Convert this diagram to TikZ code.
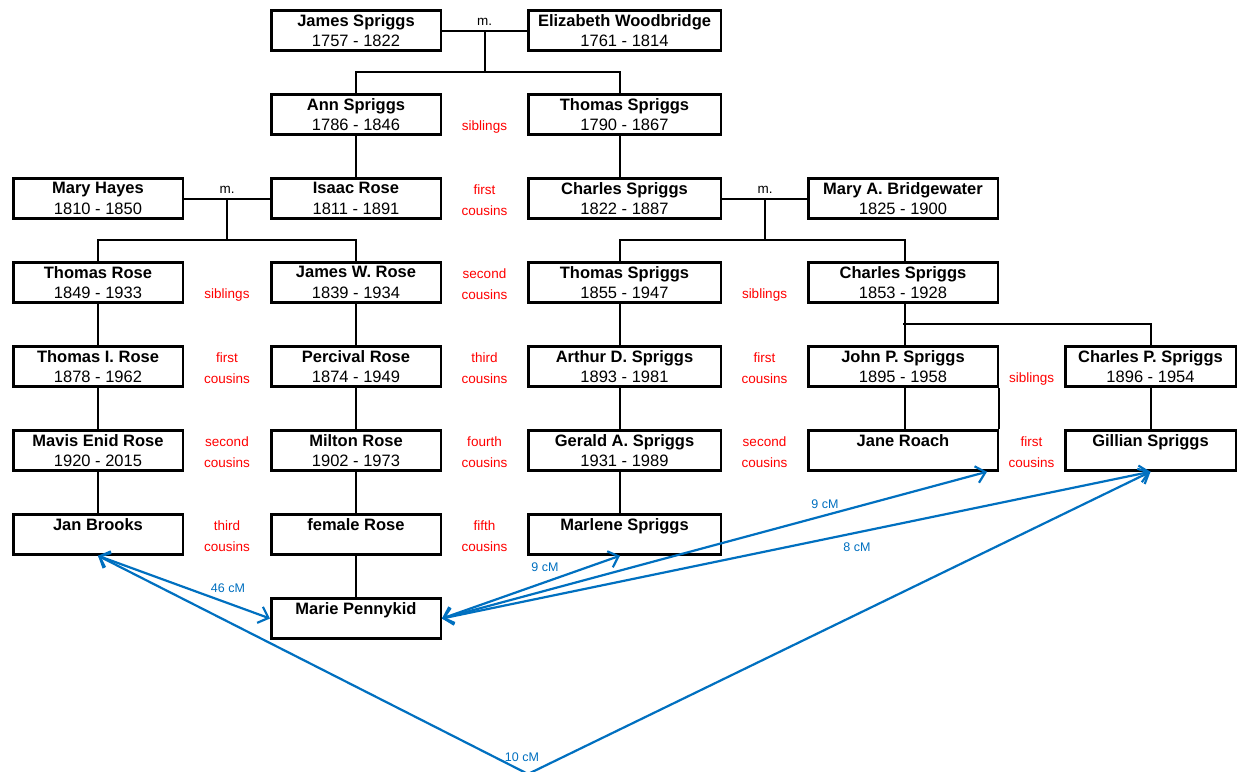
\documentclass[tikz,border=0pt]{standalone}
\usepackage{fontspec}
\setmainfont{Liberation Sans}
\usetikzlibrary{arrows.meta}
\definecolor{dnablue}{RGB}{0,112,192}
\definecolor{relred}{RGB}{255,0,0}
\newcommand{\pname}[2]{\textbf{#1}\\#2}
\begin{document}
\begin{tikzpicture}[x=1pt,y=-1pt,
  person/.style={draw, line width=2.5pt, rectangle, inner sep=0pt, minimum height=40pt,
    align=center, font=\fontsize{16.5}{20.5}\selectfont},
  colA/.style={person, minimum width=169.5pt},
  colC/.style={person, minimum width=192.5pt},
  colD/.style={person, minimum width=189.5pt},
  colE/.style={person, minimum width=170.5pt},
  link/.style={line width=2pt},
  rel/.style={text=relred, font=\fontsize{13.5}{16}\selectfont, inner sep=0pt, anchor=base},
  mtext/.style={font=\fontsize{13.5}{16}\selectfont, inner sep=0pt},
  barb/.tip={Straight Barb[length=9pt,width=17pt]},
  dna/.style={draw=dnablue, line width=2.2pt, barb-barb},
  cmlabel/.style={text=dnablue, font=\fontsize{12.5}{15}\selectfont, inner sep=0pt}
]
\useasboundingbox (0,0) rectangle (1238,771);
\fill[white] (0,0) rectangle (1238,771);

% ---- people ----
\node[colA] (js)  at (356,30.5)   {\pname{James Spriggs}{1757 - 1822}};
\node[colC] (ew)  at (624.5,30.5) {\pname{Elizabeth Woodbridge}{1761 - 1814}};
\node[colA] (as)  at (356,114.5)  {\pname{Ann Spriggs}{1786 - 1846}};
\node[colC] (ts1) at (624.5,114.5){\pname{Thomas Spriggs}{1790 - 1867}};
\node[colA] (mh)  at (98,198.5)   {\pname{Mary Hayes}{1810 - 1850}};
\node[colA] (ir)  at (356,198.5)  {\pname{Isaac Rose}{1811 - 1891}};
\node[colC] (cs1) at (624.5,198.5){\pname{Charles Spriggs}{1822 - 1887}};
\node[colD] (mb)  at (903,198.5)  {\pname{Mary A. Bridgewater}{1825 - 1900}};
\node[colA] (tr)  at (98,282.5)   {\pname{Thomas Rose}{1849 - 1933}};
\node[colA] (jw)  at (356,282.5)  {\pname{James W. Rose}{1839 - 1934}};
\node[colC] (ts2) at (624.5,282.5){\pname{Thomas Spriggs}{1855 - 1947}};
\node[colD] (cs2) at (903,282.5)  {\pname{Charles Spriggs}{1853 - 1928}};
\node[colA] (ti)  at (98,366.5)   {\pname{Thomas I. Rose}{1878 - 1962}};
\node[colA] (pr)  at (356,366.5)  {\pname{Percival Rose}{1874 - 1949}};
\node[colC] (ad)  at (624.5,366.5){\pname{Arthur D. Spriggs}{1893 - 1981}};
\node[colD] (jp)  at (903,366.5)  {\pname{John P. Spriggs}{1895 - 1958}};
\node[colE] (cp)  at (1150.5,366.5){\pname{Charles P. Spriggs}{1896 - 1954}};
\node[colA] (me)  at (98,450.5)   {\pname{Mavis Enid Rose}{1920 - 2015}};
\node[colA] (mr)  at (356,450.5)  {\pname{Milton Rose}{1902 - 1973}};
\node[colC] (ga)  at (624.5,450.5){\pname{Gerald A. Spriggs}{1931 - 1989}};
\node[colD] (jr)  at (903,450.5)  {\pname{Jane Roach}{\phantom{1931}}};
\node[colE] (gs)  at (1150.5,450.5){\pname{Gillian Spriggs}{\phantom{1931}}};
\node[colA] (jb)  at (98,534.5)   {\pname{Jan Brooks}{\phantom{1931}}};
\node[colA] (fr)  at (356,534.5)  {\pname{female Rose}{\phantom{1931}}};
\node[colC] (ms)  at (624.5,534.5){\pname{Marlene Spriggs}{\phantom{1931}}};
\node[colA] (mp)  at (356,618.5)  {\pname{Marie Pennykid}{\phantom{1931}}};

% ---- family connectors ----
\coordinate (m1) at (484.5,30.5);  \coordinate (b1) at (484.5,72);
\coordinate (m2) at (227,198.5);   \coordinate (b2) at (227,240);
\coordinate (m3) at (765,198.5);   \coordinate (b3) at (765,240);
\coordinate (b4) at (903,324);

\draw[link] (js) -- (ew);
\draw[link] (m1) -- (b1);
\draw[link] (as.north) |- (b1) -| ([xshift=-4.5]ts1.north);
\draw[link] (as) -- (ir);
\draw[link] ([xshift=-4.5]ts1.south) -- ([xshift=-4.5]cs1.north);

\draw[link] (mh) -- (ir);
\draw[link] (m2) -- (b2);
\draw[link] (tr.north) |- (b2) -| (jw.north);

\draw[link] (cs1) -- (mb);
\draw[link] (m3) -- (b3);
\draw[link] ([xshift=-4.5]ts2.north) |- (b3) -| ([xshift=2]cs2.north);

\draw[link] (tr) -- (ti);
\draw[link] (ti) -- (me);
\draw[link] (me) -- (jb);
\draw[link] (jw) -- (pr);
\draw[link] (pr) -- (mr);
\draw[link] (mr) -- (fr);
\draw[link] (fr) -- (mp);
\draw[link] ([xshift=-4.5]ts2.south) -- ([xshift=-4.5]ad.north);
\draw[link] ([xshift=-4.5]ad.south) -- ([xshift=-4.5]ga.north);
\draw[link] ([xshift=-4.5]ga.south) -- ([xshift=-4.5]ms.north);
\draw[link] ([xshift=2]cs2.south) -- ([xshift=2]jp.north);
\draw[link] (b4) -| (cp.north);
\draw[link] ([xshift=2]jp.south) -- ([xshift=2]jr.north);
\draw[link] (jp.south east) -- (jr.north east);
\draw[link] (cp) -- (gs);

% ---- marriage labels ----
\node[mtext] (mt1) at (484.5,21.5) {m.};
\node[mtext] (mt2) at (227,189.5) {m.};
\node[mtext] (mt3) at (765,189.5) {m.};

% ---- relationship labels ----
\node[rel] (r2a) at (484.5,130.5) {siblings};
\node[rel] (r3a) at (484.5,194.5) {first};
\node[rel] (r3b) at (484.5,215) {cousins};
\node[rel] (r4a) at (227,298.5) {siblings};
\node[rel] (r4b) at (484.5,278.5) {second};
\node[rel] (r4c) at (484.5,299) {cousins};
\node[rel] (r4d) at (764.5,298.5) {siblings};
\node[rel] (r5a) at (227,362.5) {first};
\node[rel] (r5b) at (227,383) {cousins};
\node[rel] (r5c) at (484.5,362.5) {third};
\node[rel] (r5d) at (484.5,383) {cousins};
\node[rel] (r5e) at (764.5,362.5) {first};
\node[rel] (r5f) at (764.5,383) {cousins};
\node[rel] (r5g) at (1031.5,382.5) {siblings};
\node[rel] (r6a) at (227,446.5) {second};
\node[rel] (r6b) at (227,467) {cousins};
\node[rel] (r6c) at (484.5,446.5) {fourth};
\node[rel] (r6d) at (484.5,467) {cousins};
\node[rel] (r6e) at (764.5,446.5) {second};
\node[rel] (r6f) at (764.5,467) {cousins};
\node[rel] (r6g) at (1031.5,446.5) {first};
\node[rel] (r6h) at (1031.5,467) {cousins};
\node[rel] (r7a) at (227,530.5) {third};
\node[rel] (r7b) at (227,551) {cousins};
\node[rel] (r7c) at (484.5,530.5) {fifth};
\node[rel] (r7d) at (484.5,551) {cousins};

% ---- DNA match arrows ----
\coordinate (vtx) at (528,774);
\draw[dna] (jb.south) -- (mp.west);
\draw[dna] (jb.south) -- (vtx) -- (gs.south);
\draw[dna] (mp.east) -- ([xshift=-4.5]ms.south);
\draw[dna] (mp.east) -- ([xshift=-12]jr.south east);
\draw[dna] (mp.east) -- (gs.south);

\node[cmlabel] (c46) at (228,588) {46 cM};
\node[cmlabel] (c10) at (522,757) {10 cM};
\node[cmlabel] (c9a) at (545,567) {9 cM};
\node[cmlabel] (c9b) at (825,504) {9 cM};
\node[cmlabel] (c8)  at (857,547) {8 cM};
\end{tikzpicture}
\end{document}
